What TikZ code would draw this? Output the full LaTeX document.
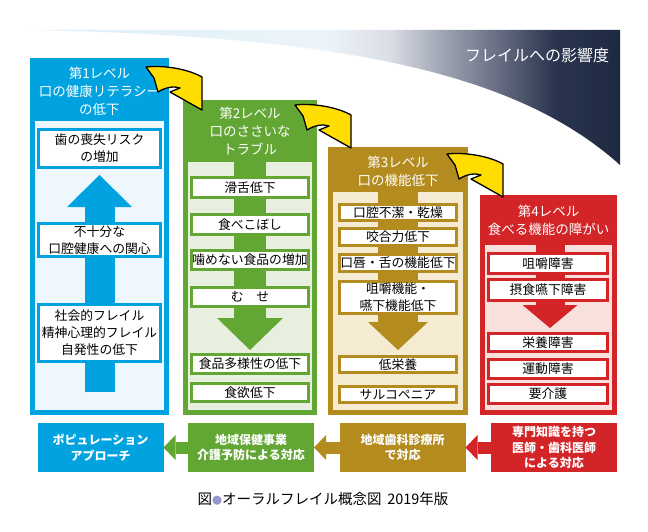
\documentclass[tikz,border=0pt]{standalone}
\usepackage{fontspec}
\setmainfont{Noto Sans CJK JP}
\usepackage{tikz}
\usetikzlibrary{arrows.meta, positioning}

\definecolor{LvBlue}{RGB}{0,163,224}
\definecolor{LvBluePale}{RGB}{238,247,253}
\definecolor{LvGreen}{RGB}{98,166,52}
\definecolor{LvGreenPale}{RGB}{233,239,223}
\definecolor{LvGold}{RGB}{179,139,30}
\definecolor{LvGoldPale}{RGB}{245,235,210}
\definecolor{LvRed}{RGB}{211,36,40}
\definecolor{LvRedPale}{RGB}{248,224,220}
\definecolor{ArrowYellow}{RGB}{255,221,0}
\definecolor{DotLilac}{RGB}{150,152,204}
\definecolor{FadeSky}{RGB}{220,238,248}
\definecolor{FadeMist}{RGB}{236,244,249}
\definecolor{FadeFog}{RGB}{218,222,229}
\definecolor{FadeGray}{RGB}{165,170,184}
\definecolor{FadeSlate}{RGB}{105,111,132}
\definecolor{FadeInk}{RGB}{42,52,78}
\definecolor{FadeNavy}{RGB}{30,42,65}

\pgfdeclarehorizontalshading{impactfade}{100bp}{color(0bp)=(FadeSky); color(25bp)=(FadeSky);
	color(50bp)=(FadeMist); color(55.5bp)=(FadeFog); color(59.5bp)=(FadeGray);
	color(64.5bp)=(FadeSlate); color(69.5bp)=(FadeInk); color(75bp)=(FadeNavy); color(100bp)=(FadeNavy)}

\begin{document}
\begin{tikzpicture}[x=1pt, y=-1pt, font=\fontsize{12.8}{17}\selectfont,
	every node/.style={inner sep=0pt, outer sep=0pt},
	colbox/.style={anchor=north},
	headtxt/.style={text=white, align=center, font=\fontsize{13.5}{18}\selectfont},
	itembox/.style={draw, line width=2.6pt, fill=white, align=center},
	basebox/.style={text=white, align=center, minimum width=126pt, minimum height=49pt,
		font=\bfseries\fontsize{12}{15.5}\selectfont},
	curl/.style={fill=ArrowYellow, draw=black, line width=1.3pt, line join=round},
	flowarrow/.style={line width=12pt, -{Triangle[width=25pt, length=12pt, line width=0pt]}}]

	\useasboundingbox[fill=white] (0,0) rectangle (648,532);

	% influence band
	\shade[shading=impactfade] (30,30) -- (620,30) -- (620,165)
		.. controls (520,75) and (350,36) .. (30,30) -- cycle;
	\node[text=white, anchor=east, font=\fontsize{16}{16}\selectfont] (impact) at (609,55) {フレイルへの影響度};

	% level columns
	\foreach \nm/\cx/\tp/\pt/\w/\col in {lv1/99.5/58/121/139/LvBlue, lv2/250/100/162/134/LvGreen,
		lv3/398/147/192/140/LvGold, lv4/548.5/195/245/137/LvRed}{
		\node[colbox, fill=\col, minimum width=\w pt, minimum height={(415-\tp)*1pt}] (\nm) at (\cx,\tp) {};
		\node[colbox, fill=\col Pale, minimum width={(\w-10)*1pt}, minimum height={(410-\pt)*1pt}] (\nm pane) at (\cx,\pt) {};
	}
	\node[headtxt] (lv1head) at (99.5,91) {第1レベル\\口の健康リテラシー\\の低下};
	\node[headtxt] (lv2head) at (250,131) {第2レベル\\口のささいな\\トラブル};
	\node[headtxt] (lv3head) at (398,171) {第3レベル\\口の機能低下};
	\node[headtxt] (lv4head) at (548.5,220.5) {第4レベル\\食べる機能の障がい};

	% big arrows inside the columns
	\draw[line width=30pt, LvBlue, -{Triangle[width=65pt, length=32pt, line width=0pt]}] (99.5,392) -- (99.5,175);
	\draw[line width=32pt, LvGreen, -{Triangle[width=66pt, length=32pt, line width=0pt]}] (250,162) -- (250,350);
	\draw[line width=40pt, LvGold, -{Triangle[width=60pt, length=28pt, line width=0pt]}] (398,192) -- (398,350);
	\draw[line width=29pt, LvRed, -{Triangle[width=55pt, length=23pt, line width=0pt]}] (550,245) -- (550,328);

	% items
	\foreach \nm/\y/\h/\txt in {tooth/148.5/41/{歯の喪失リスク\\の増加},
		concern/240/36/{不十分な\\口腔健康への関心},
		social/333/60/{社会的フレイル\\精神心理的フレイル\\自発性の低下}}
		\node[itembox, draw=LvBlue, minimum width=122pt, minimum height={(\h-2.6)*1pt}] (\nm) at (99.5,\y) {\txt};
	\foreach \nm/\y/\h/\txt in {slur/187.5/23/滑舌低下, spill/224.5/23/食べこぼし,
		hardfood/260/22/噛めない食品の増加, choke/297/22/む　せ,
		variety/364/22/食品多様性の低下, appetite/392.5/21/食欲低下}
		\node[itembox, draw=LvGreen, minimum width=117.4pt, minimum height={(\h-2.6)*1pt}] (\nm) at (250,\y) {\txt};
	\foreach \nm/\y/\h/\txt in {dirty/212.5/19/口腔不潔・乾燥, bite/237/20/咬合力低下,
		lip/263/20/口唇・舌の機能低下, chew/297.5/35/{咀嚼機能・\\嚥下機能低下},
		malnut/364.5/19/低栄養, sarco/394.5/19/サルコペニア}
		\node[itembox, draw=LvGold, minimum width=117.4pt, minimum height={(\h-2.6)*1pt}] (\nm) at (398,\y) {\txt};
	\foreach \nm/\y/\h/\txt in {chewdis/263.5/23/咀嚼障害, swallowdis/290/24/摂食嚥下障害,
		nutridis/342.5/21/栄養障害, motordis/369/22/運動障害, care/394/22/要介護}
		\node[itembox, draw=LvRed, minimum width=119.4pt, minimum height={(\h-2.6)*1pt}] (\nm) at (548,\y) {\txt};

	% yellow curls between levels
	\foreach \tx/\ty in {202/110, 351/148, 503/197}
		\filldraw[curl, shift={(\tx,\ty)}] (-56,-43) .. controls (-38,-45) and (-14,-41) .. (0,-33)
			-- (0,0) -- (-32,-18) -- (-22,-22) .. controls (-28,-24) and (-36,-23) .. (-44,-18)
			-- (-48,-32) -- cycle;

	% responses
	\foreach \nm/\cx/\col/\txt in {popu/100.5/LvBlue/{ポピュレーション\\アプローチ},
		local/251/LvGreen/{地域保健事業\\介護予防による対応},
		dental/402.5/LvGold/{地域歯科診療所\\で対応},
		expert/554/LvRed/{専門知識を持つ\\医師・歯科医師\\による対応}}
		\node[basebox, fill=\col] (\nm) at (\cx,447.5) {\txt};
	\draw[flowarrow, LvGreen] (local) -- (popu);
	\draw[flowarrow, LvGold] (dental) -- (local);
	\draw[flowarrow, LvRed] (expert) -- (dental);

	\node[font=\fontsize{14.5}{14.5}\selectfont] (caption) at (323,499)
		{図{\color{DotLilac}\fontsize{10}{10}\selectfont ●}オーラルフレイル概念図\hspace{0.4em}2019年版};
\end{tikzpicture}
\end{document}
